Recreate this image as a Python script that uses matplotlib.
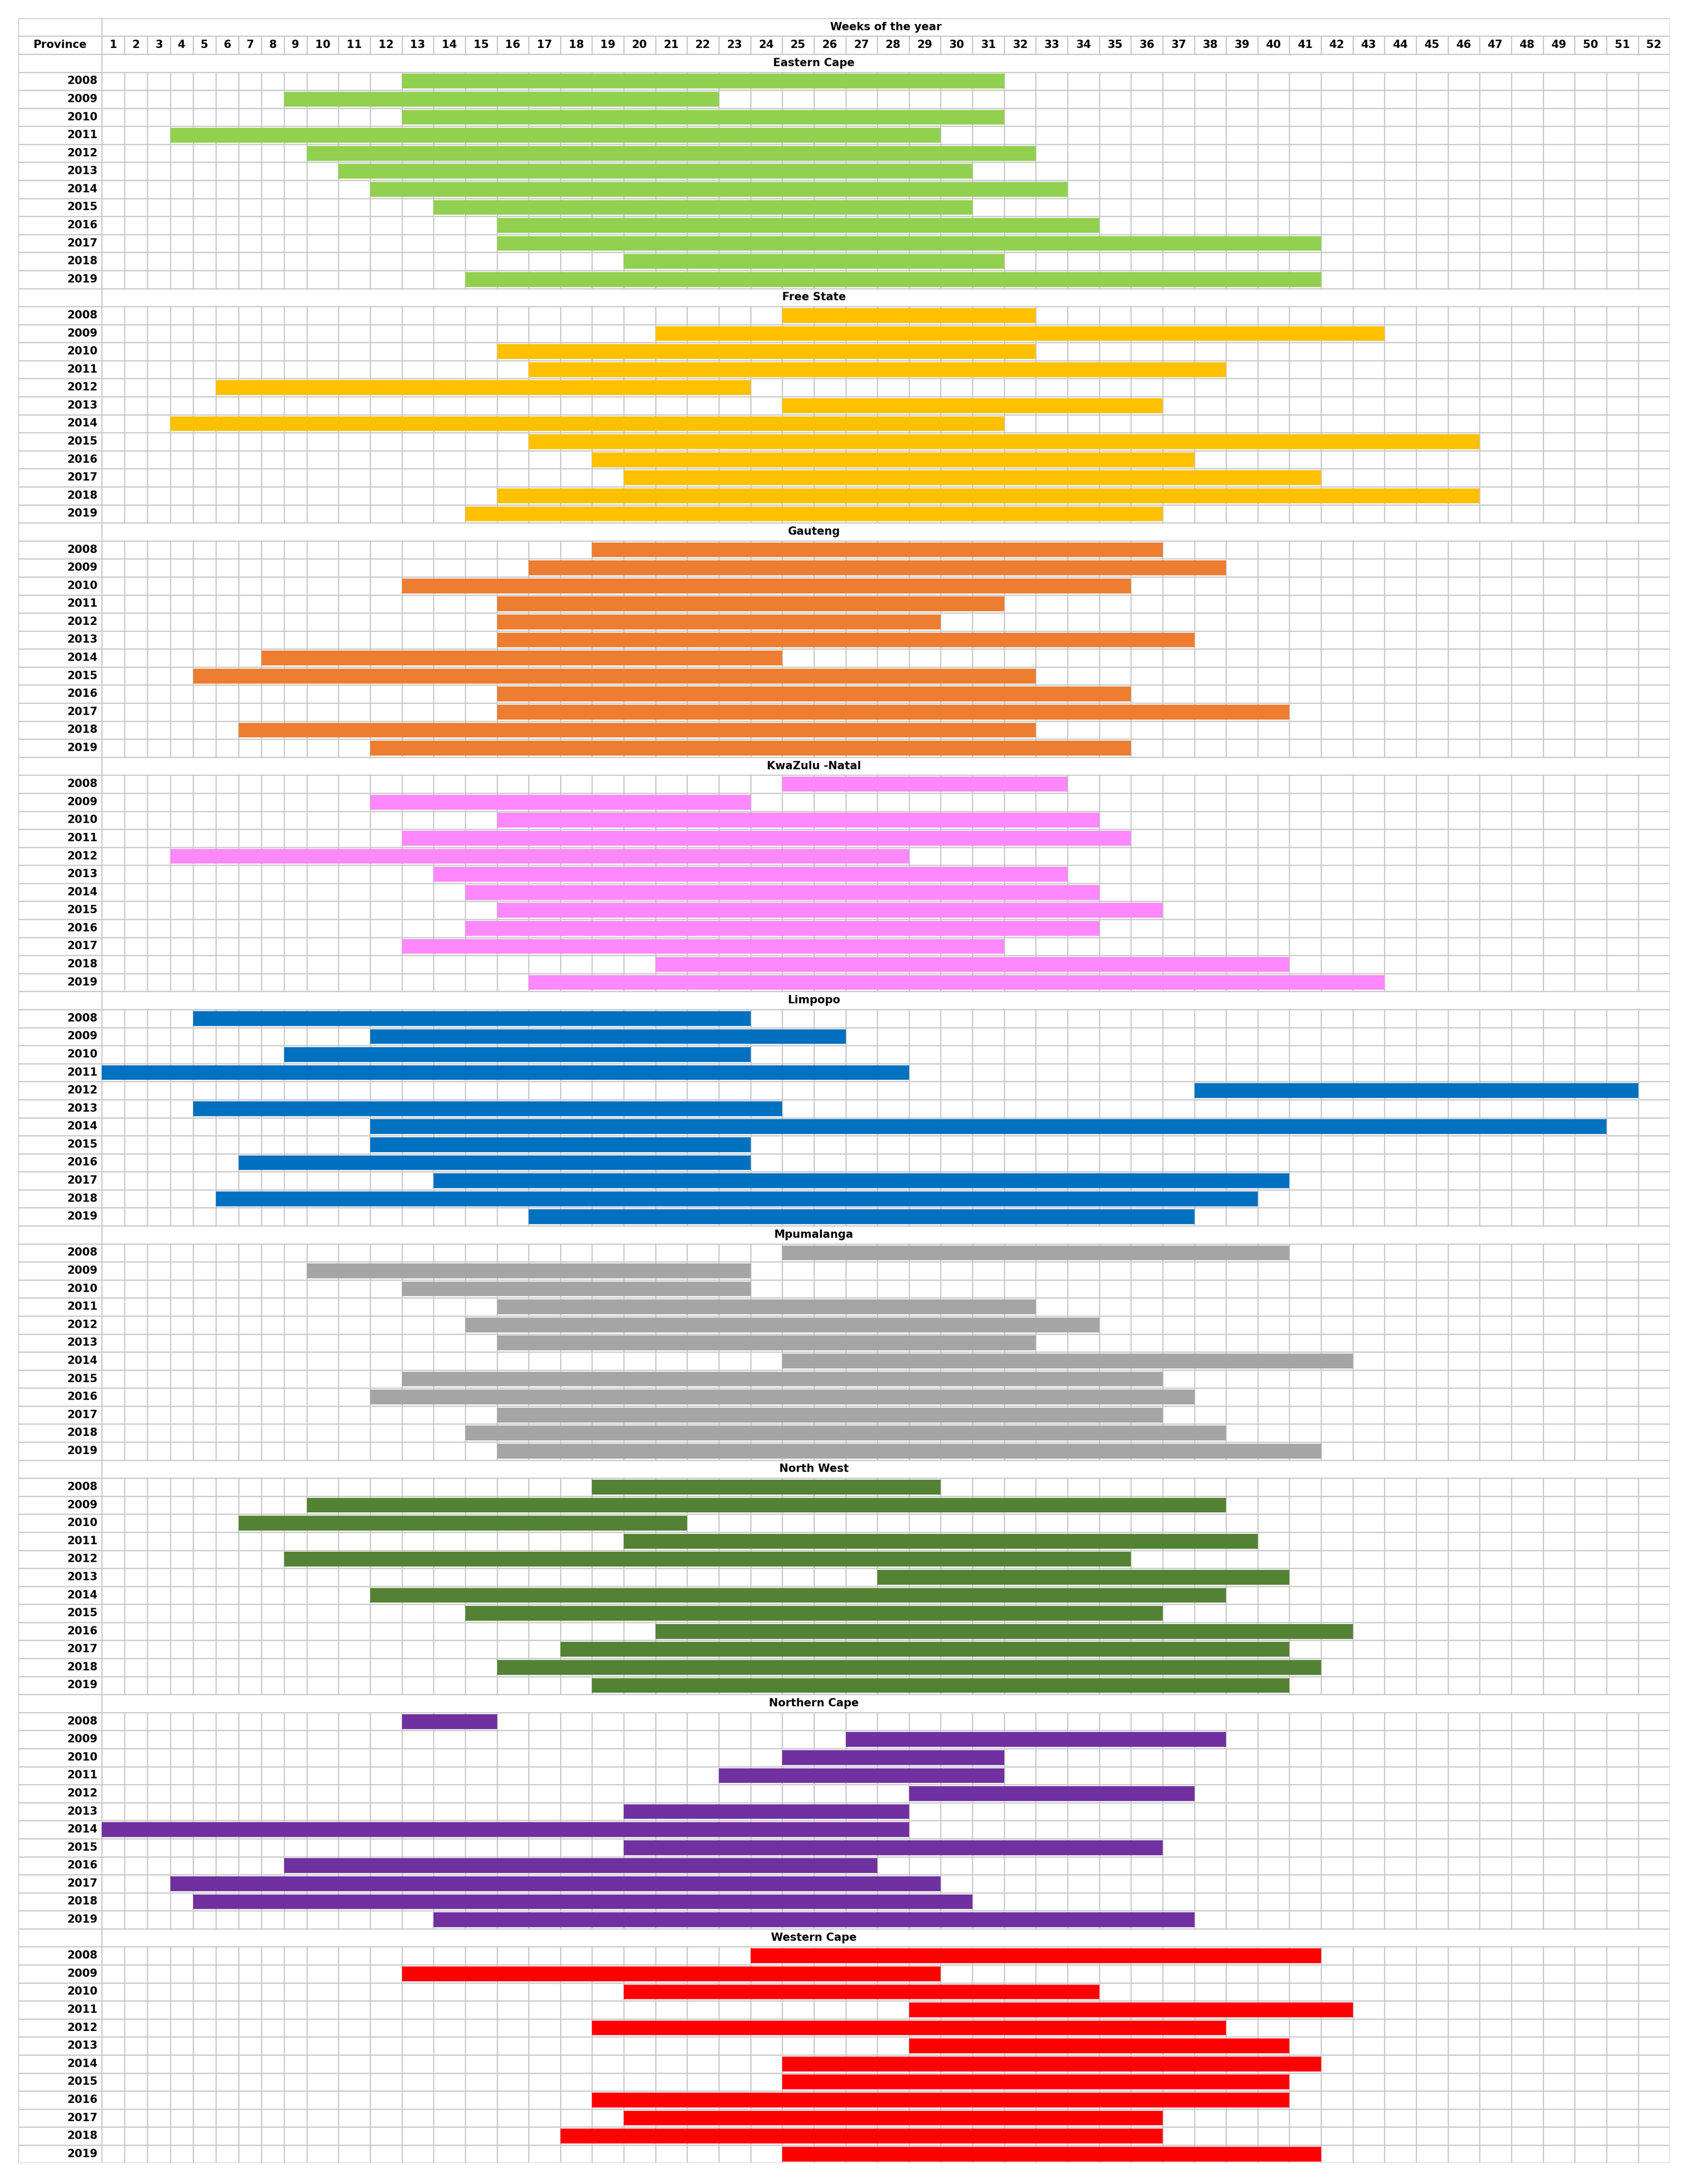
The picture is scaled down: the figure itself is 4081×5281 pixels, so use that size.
import numpy as np
import matplotlib.pyplot as plt

# Province names, colours and (start week, end week) for each year 2008..2019
years = list(range(2008, 2020))
provinces = ["Eastern Cape", "Free State", "Gauteng", "KwaZulu -Natal", "Limpopo",
             "Mpumalanga", "North West", "Northern Cape", "Western Cape"]
colors = ["#92D050", "#FFC000", "#ED7D31", "#FF88FF", "#0070C0",
          "#A5A5A5", "#548235", "#7030A0", "#FF0000"]

eastern_cape = [(13, 31), (9, 22), (13, 31), (4, 29), (10, 32), (11, 30),
                (12, 33), (14, 30), (16, 34), (16, 41), (20, 31), (15, 41)]
free_state = [(25, 32), (21, 43), (16, 32), (17, 38), (6, 23), (25, 36),
              (4, 31), (17, 46), (19, 37), (20, 41), (16, 46), (15, 36)]
gauteng = [(19, 36), (17, 38), (13, 35), (16, 31), (16, 29), (16, 37),
           (8, 24), (5, 32), (16, 35), (16, 40), (7, 32), (12, 35)]
kwazulu_natal = [(25, 33), (12, 23), (16, 34), (13, 35), (4, 28), (14, 33),
                 (15, 34), (16, 36), (15, 34), (13, 31), (21, 40), (17, 43)]
limpopo = [(5, 23), (12, 26), (9, 23), (1, 28), (38, 51), (5, 24),
           (12, 50), (12, 23), (7, 23), (14, 40), (6, 39), (17, 37)]
mpumalanga = [(25, 40), (10, 23), (13, 23), (16, 32), (15, 34), (16, 32),
              (25, 42), (13, 36), (12, 37), (16, 36), (15, 38), (16, 41)]
north_west = [(19, 29), (10, 38), (7, 21), (20, 39), (9, 35), (28, 40),
              (12, 38), (15, 36), (21, 42), (18, 40), (16, 41), (19, 40)]
northern_cape = [(13, 15), (27, 38), (25, 31), (23, 31), (29, 37), (20, 28),
                 (1, 28), (20, 36), (9, 27), (4, 29), (5, 30), (14, 37)]
western_cape = [(24, 41), (13, 29), (20, 34), (29, 42), (19, 38), (29, 40),
                (25, 41), (25, 40), (19, 40), (20, 36), (18, 36), (25, 41)]
spans = [eastern_cape, free_state, gauteng, kwazulu_natal, limpopo,
         mpumalanga, north_west, northern_cape, western_cape]

weeks = np.arange(1, 53)

# column widths: province column, narrow single digit weeks, wider weeks
prov_w = 60.0
widths = np.where(weeks <= 9, 16.3, 22.7)
edges = prov_w + np.concatenate([[0], np.cumsum(widths)])
total_w = edges[-1]
n_rows = 2 + len(provinces) * (1 + len(years))

fig = plt.figure(figsize=(40.81, 52.81), dpi=100)
ax = fig.add_axes([13 / 1210, 15 / 1568, 1 - 26 / 1210, 1 - 28 / 1568])
ax.set_xlim(0, total_w)
ax.set_ylim(n_rows, 0)
ax.axis("off")

fs = 19
grid_c = "#C8C8C8"

# header rows
ax.text((edges[0] + total_w) / 2, 0.5, "Weeks of the year", ha="center", va="center",
        fontsize=fs, fontweight="bold")
ax.text(prov_w / 2, 1.5, "Province", ha="center", va="center", fontsize=fs, fontweight="bold")
for i, w in enumerate(weeks):
    ax.text((edges[i] + edges[i + 1]) / 2, 1.5, str(w), ha="center", va="center",
            fontsize=fs, fontweight="bold")

row = 2
for p, name, col, sp in zip(range(len(provinces)), provinces, colors, spans):
    ax.text(edges[25], row + 0.5, name, ha="center", va="center", fontsize=fs, fontweight="bold")
    row += 1
    for y, (a, b) in zip(years, sp):
        ax.text(prov_w - 3, row + 0.5, str(y), ha="right", va="center", fontsize=fs, fontweight="bold")
        ax.barh(row + 0.5, edges[b] - edges[a - 1], left=edges[a - 1], height=0.82,
                color=col, zorder=3)
        row += 1

# horizontal grid lines
for r in range(n_rows + 1):
    ax.plot([0, total_w], [r, r], color=grid_c, lw=2, zorder=1)

# vertical grid lines (skip merged title rows)
title_rows = [0] + [2 + k * 13 for k in range(len(provinces))]
segments = []
r = 0
for tr in title_rows:
    if tr > r:
        segments.append((r, tr))
    r = tr + 1
segments.append((r, n_rows))
for x in edges[1:-1]:
    for s0, s1 in segments:
        ax.plot([x, x], [s0, s1], color=grid_c, lw=2, zorder=1)
for x in [0, edges[0], total_w]:
    ax.plot([x, x], [0, n_rows], color=grid_c, lw=2, zorder=1)

fig.savefig("out.png", dpi=100, facecolor="white")
